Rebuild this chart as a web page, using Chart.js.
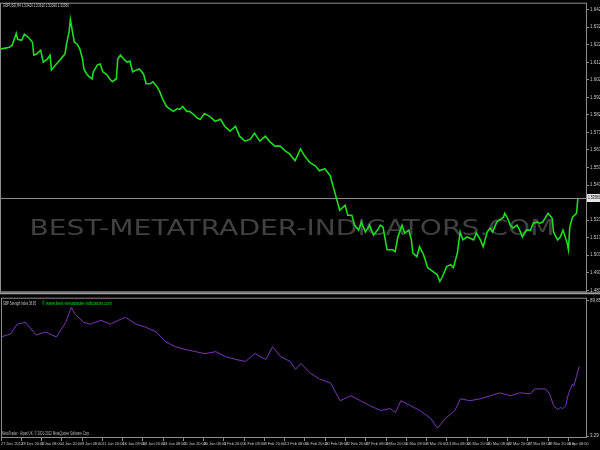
<!DOCTYPE html>
<html>
<head>
<meta charset="utf-8">
<script src="https://cdn.jsdelivr.net/npm/chart.js@4"></script>
<style>
  html, body { margin: 0; padding: 0; background: #000; }
  #wrap { position: relative; width: 600px; height: 450px; background: #000; overflow: hidden; }
  canvas { position: absolute; left: 0; }
  #priceChart { top: 0; }
  #strengthChart { top: 295px; }
</style>
</head>
<body>
<div id="wrap">
  <canvas id="priceChart" width="600" height="295"></canvas>
  <canvas id="strengthChart" width="600" height="155"></canvas>
</div>
<script>
// GBPUSD H4, bar index -> close
const priceBars = [0, 4, 7, 9, 12, 13, 16, 18, 21, 24, 25, 27, 30, 32, 35, 37, 38, 41, 43, 46, 48, 49, 51, 52, 53, 54, 55, 57, 59, 61, 62, 64, 66, 68, 69, 72, 74, 76, 79, 81, 83, 86, 87, 89, 92, 94, 96, 98, 101, 103, 106, 108, 111, 113, 116, 118, 120, 123, 126, 128, 131, 133, 135, 138, 140, 143, 146, 148, 151, 155, 159, 163, 166, 170, 174, 177, 181, 185, 188, 192, 196, 199, 203, 207, 211, 214, 218, 222, 225, 229, 233, 236, 240, 244, 246, 249, 251, 255, 257, 260, 262, 265, 267, 270, 273, 276, 279, 281, 283, 286, 290, 292, 294, 297, 299, 302, 304, 305, 308, 310, 313, 316, 318, 320, 323, 325, 327, 330, 333, 335, 338, 340, 342, 345, 347, 350, 352, 355, 357, 360, 362, 364, 367, 369, 372, 373, 375, 377, 379, 382, 384, 386, 389, 392, 394, 397, 399, 401, 405, 408, 409, 412, 414, 416, 419, 420, 421, 423, 426, 427];
const priceClose = [1.6200, 1.6206, 1.6211, 1.6222, 1.6289, 1.6256, 1.6250, 1.6284, 1.6267, 1.6239, 1.6166, 1.6172, 1.6194, 1.6127, 1.6144, 1.6166, 1.6083, 1.6111, 1.6127, 1.6155, 1.6172, 1.6222, 1.6295, 1.6367, 1.6323, 1.6278, 1.6239, 1.6228, 1.6200, 1.6144, 1.6088, 1.6060, 1.6044, 1.6033, 1.6072, 1.6111, 1.6116, 1.6072, 1.6055, 1.6033, 1.6016, 1.6033, 1.6144, 1.6166, 1.6139, 1.6127, 1.6133, 1.6072, 1.6083, 1.6088, 1.6060, 1.6005, 1.6005, 1.6016, 1.5988, 1.5960, 1.5921, 1.5877, 1.5860, 1.5849, 1.5865, 1.5860, 1.5877, 1.5849, 1.5849, 1.5832, 1.5810, 1.5804, 1.5837, 1.5821, 1.5793, 1.5804, 1.5765, 1.5737, 1.5765, 1.5709, 1.5681, 1.5692, 1.5726, 1.5681, 1.5709, 1.5681, 1.5653, 1.5653, 1.5625, 1.5609, 1.5570, 1.5637, 1.5598, 1.5559, 1.5542, 1.5514, 1.5525, 1.5486, 1.5430, 1.5347, 1.5291, 1.5319, 1.5263, 1.5263, 1.5207, 1.5179, 1.5224, 1.5168, 1.5207, 1.5151, 1.5179, 1.5207, 1.5196, 1.5068, 1.5068, 1.5057, 1.5140, 1.5207, 1.5162, 1.5179, 1.5124, 1.5051, 1.5029, 1.5085, 1.5040, 1.4967, 1.4956, 1.4945, 1.4928, 1.4889, 1.4917, 1.4973, 1.4984, 1.4967, 1.5051, 1.5168, 1.5124, 1.5140, 1.5134, 1.5124, 1.5162, 1.5124, 1.5085, 1.5168, 1.5190, 1.5168, 1.5224, 1.5235, 1.5252, 1.5274, 1.5246, 1.5207, 1.5190, 1.5207, 1.5179, 1.5140, 1.5179, 1.5179, 1.5218, 1.5224, 1.5218, 1.5224, 1.5274, 1.5246, 1.5168, 1.5124, 1.5140, 1.5179, 1.5107, 1.5068, 1.5196, 1.5252, 1.5274, 1.5358];

// GBP Strength Index, bar index -> value
const strengthBars = [0, 7, 12, 18, 26, 33, 41, 48, 52, 55, 61, 66, 74, 81, 87, 92, 100, 107, 115, 122, 129, 137, 144, 151, 159, 166, 174, 181, 188, 196, 201, 207, 214, 218, 222, 229, 236, 244, 251, 259, 266, 273, 281, 288, 292, 296, 303, 310, 318, 323, 329, 336, 340, 347, 355, 362, 369, 377, 384, 392, 395, 399, 403, 406, 409, 412, 414, 416, 418, 420, 423, 424, 426, 428];
const strengthValues = [66.64, 68.53, 74.80, 76.05, 67.90, 69.78, 66.64, 76.05, 85.46, 81.07, 76.05, 74.80, 77.31, 74.80, 77.31, 79.19, 74.80, 72.92, 69.78, 63.51, 60.37, 58.49, 57.24, 55.98, 57.24, 54.10, 52.22, 50.96, 55.98, 52.22, 60.37, 54.10, 50.96, 45.95, 49.71, 43.44, 39.67, 37.17, 25.88, 29.01, 25.88, 22.74, 19.60, 20.86, 18.35, 25.88, 22.74, 19.60, 14.59, 8.31, 14.59, 19.60, 27.13, 25.88, 27.13, 29.01, 30.89, 29.01, 30.89, 30.27, 33.40, 33.40, 33.40, 30.27, 22.74, 20.23, 21.49, 20.86, 22.74, 30.27, 36.54, 35.28, 41.56, 47.83];

const priceTicks = [1.6423, 1.6324, 1.6225, 1.6126, 1.6027, 1.5928, 1.5829, 1.5730, 1.5631, 1.5532, 1.5433, 1.5235, 1.5136, 1.5037, 1.4938, 1.4839];
const strengthTicks = [89.85, 3.29];
const timeTickBars = [0, 15, 30, 45, 60, 75, 90, 105, 120, 135, 150, 165, 180, 195, 210, 225, 240, 255, 270, 285, 300, 315, 330, 345, 360, 375, 390, 405, 420];
const timeLabels = ["27 Dec 2012", "28 Dec 20:00", "2 Jan 08:00", "4 Jan 20:00", "9 Jan 08:00", "11 Jan 20:00", "16 Jan 08:00", "18 Jan 20:00", "23 Jan 08:00", "25 Jan 20:00", "30 Jan 08:00", "1 Feb 20:00", "6 Feb 08:00", "8 Feb 20:00", "13 Feb 08:00", "15 Feb 20:00", "20 Feb 08:00", "22 Feb 20:00", "27 Feb 08:00", "1 Mar 20:00", "6 Mar 08:00", "8 Mar 20:00", "13 Mar 08:00", "15 Mar 20:00", "20 Mar 08:00", "22 Mar 20:00", "27 Mar 08:00", "29 Mar 20:00", "3 Apr 08:00"];

const bidPrice = 1.5358;
const headerText = "GBPUSD,H4 1.53420 1.53610 1.53390 1.53580";
const indicatorText = "GBP Strength Index 38.95";
const linkText = "\u00a9 www.best-metatrader-indicators.com";
const footerText = "MetaTrader - Alpari UK, \u00a9 2001-2012 MetaQuotes Software Corp.";
const watermarkText = "BEST-METATRADER-INDICATORS.COM";

const NARROW = "'Liberation Sans Narrow', 'Liberation Sans', sans-serif";
const FRAME = "#8c8c8c";
const TEXT = "#c8c8c8";
const X_MAX = 433;

Chart.defaults.animation = false;
Chart.defaults.plugins.legend.display = false;
Chart.defaults.plugins.tooltip.enabled = false;

const framePlugin = {
  id: "frame",
  afterDraw(chart) {
    const { ctx, chartArea: a } = chart;
    ctx.save();
    ctx.strokeStyle = FRAME;
    ctx.lineWidth = 1;
    ctx.strokeRect(a.left + 0.5, a.top - 0.5, a.right - a.left, a.bottom - a.top + 1);
    ctx.restore();
  },
};

const pricePlugin = {
  id: "priceExtras",
  beforeDatasetsDraw(chart) {
    const { ctx, chartArea: a } = chart;
    ctx.save();
    ctx.font = "21px 'DejaVu Sans', sans-serif";
    const w = ctx.measureText(watermarkText).width;
    ctx.translate(292, 230);
    ctx.scale(525 / w, 1);
    ctx.fillStyle = "#414141";
    ctx.textAlign = "center";
    ctx.textBaseline = "middle";
    ctx.fillText(watermarkText, 0, 0);
    ctx.restore();

    const py = Math.round(chart.scales.y.getPixelForValue(bidPrice)) + 0.5;
    ctx.save();
    ctx.strokeStyle = "#8e8e8e";
    ctx.beginPath();
    ctx.moveTo(a.left, py);
    ctx.lineTo(a.right, py);
    ctx.stroke();
    ctx.restore();
  },
  afterDraw(chart) {
    const { ctx, chartArea: a } = chart;
    const py = Math.round(chart.scales.y.getPixelForValue(bidPrice));
    ctx.save();
    ctx.fillStyle = "#e6e6e6";
    ctx.fillRect(a.right + 1, py - 4, 14, 8);
    ctx.fillStyle = "#000";
    ctx.font = "4.5px " + NARROW;
    ctx.textBaseline = "middle";
    ctx.fillText(bidPrice.toFixed(5), a.right + 2, py, 12);

    ctx.fillStyle = TEXT;
    ctx.font = "5px " + NARROW;
    ctx.fillText(headerText, 3, 6, 66);

    ctx.fillStyle = "#9a9a9a";
    ctx.fillRect(0, a.bottom + 1, 600, 2);
    ctx.restore();
  },
};

const strengthPlugin = {
  id: "strengthExtras",
  afterDraw(chart) {
    const { ctx, chartArea: a } = chart;
    ctx.save();
    ctx.textBaseline = "middle";
    ctx.font = "5px " + NARROW;
    ctx.fillStyle = TEXT;
    ctx.fillText(indicatorText, 3, a.top + 5, 33);
    ctx.fillStyle = "#00e000";
    ctx.fillText(linkText, 42, a.top + 5, 70);
    ctx.fillStyle = "#bdbdbd";
    ctx.fillText(footerText, 2, a.bottom - 3, 88);
    ctx.restore();
  },
};

const barAxis = (show) => ({
  type: "linear",
  min: 0,
  max: X_MAX,
  display: show,
  afterBuildTicks: (s) => { s.ticks = timeTickBars.map((v) => ({ value: v })); },
  afterFit: (s) => { s.height = show ? 13 : 0; },
  border: { display: false },
  grid: { drawOnChartArea: false, drawTicks: true, tickLength: 4, color: FRAME },
  ticks: {
    autoSkip: false,
    maxRotation: 0,
    align: "start",
    padding: 1,
    color: TEXT,
    font: { family: NARROW, size: 3.9 },
    callback: (v, i) => timeLabels[i],
  },
});

const valueAxis = (min, max, ticks, digits) => ({
  position: "right",
  min: min,
  max: max,
  afterBuildTicks: (s) => { s.ticks = ticks.map((v) => ({ value: v })); },
  afterFit: (s) => { s.width = 14; },
  border: { display: false },
  grid: { drawOnChartArea: false, drawTicks: true, tickLength: 3, color: FRAME },
  ticks: {
    autoSkip: false,
    padding: 1,
    color: TEXT,
    font: { family: NARROW, size: 4.5 },
    callback: (v) => v.toFixed(digits),
  },
});

new Chart(document.getElementById("priceChart"), {
  type: "line",
  data: {
    datasets: [
      {
        data: priceBars.map((b, i) => ({ x: b, y: priceClose[i] })),
        borderColor: "#1fdc1f",
        borderWidth: 1.6,
        pointRadius: 0,
        tension: 0,
      },
    ],
  },
  options: {
    responsive: false,
    layout: { padding: { top: 1, bottom: 3, left: 0, right: 0 } },
    scales: {
      x: barAxis(false),
      y: valueAxis(1.48336, 1.64565, priceTicks, 5),
    },
  },
  plugins: [framePlugin, pricePlugin],
});

new Chart(document.getElementById("strengthChart"), {
  type: "line",
  data: {
    datasets: [
      {
        data: strengthBars.map((b, i) => ({ x: b, y: strengthValues[i] })),
        borderColor: "#7b35b5",
        borderWidth: 1,
        pointRadius: 0,
        tension: 0,
      },
    ],
  },
  options: {
    responsive: false,
    layout: { padding: { top: 1, bottom: 0, left: 0, right: 0 } },
    scales: {
      x: barAxis(true),
      y: valueAxis(2.66, 91.10, strengthTicks, 2),
    },
  },
  plugins: [framePlugin, strengthPlugin],
});
</script>
</body>
</html>
